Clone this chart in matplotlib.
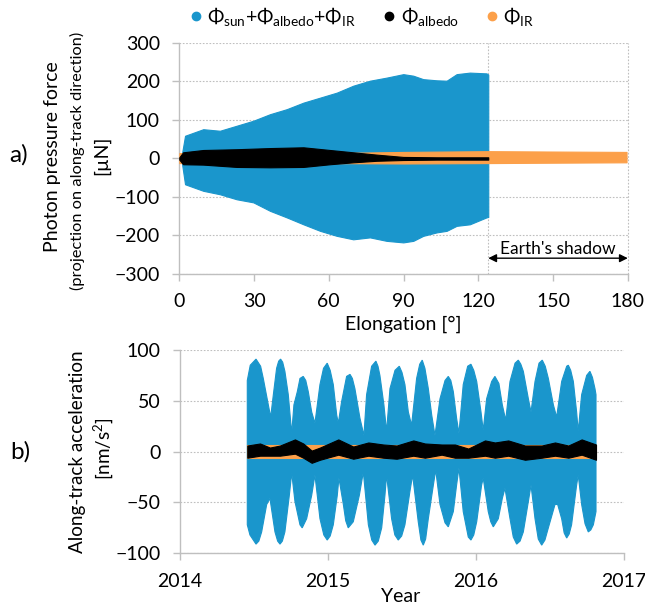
import matplotlib
matplotlib.use('Agg')
import matplotlib.pyplot as plt
from matplotlib.lines import Line2D
import numpy as np

plt.rcParams['font.family'] = ['Lato', 'DejaVu Sans']
plt.rcParams['mathtext.fontset'] = 'custom'
plt.rcParams['mathtext.rm'] = 'Lato'
plt.rcParams['mathtext.it'] = 'Lato:italic'
plt.rcParams['mathtext.bf'] = 'Lato:bold'

BLUE = '#1a96cc'
ORANGE = '#fca04a'
GREY = '#bfbfbf'

# ---- panel a: envelopes (elongation in deg, force in uN)
elong_sum = [1.0, 2.3, 9.6, 16.3, 23.0, 29.7, 36.4, 43.1, 49.8, 56.5, 63.2, 69.8,
             76.5, 83.2, 89.9, 93.9, 97.9, 103.3, 107.3, 111.3, 116.6, 123.3, 124.0]
sum_hi = [10, 59, 76, 72, 85, 98, 115, 128, 145, 158, 171, 189,
          202, 210, 219, 215, 206, 203, 202, 219, 223, 221, 218]
sum_lo = [-10, -67, -84, -93, -106, -114, -136, -153, -171, -188, -201, -210,
          -205, -214, -218, -214, -201, -192, -188, -175, -171, -153, -152]

elong_alb = [0.0, 1.5, 9.6, 23.0, 36.4, 49.8, 60.5, 69.8, 79.2, 89.9, 103.3, 124.0]
alb_hi = [3, 16, 22, 24, 27, 29, 22, 16, 10, 4, 3, 3]
alb_lo = [-3, -15, -16, -22, -23, -22, -15, -10, -6, -4, -3, -3]

elong_ir = [0.0, 60.0, 90.0, 124.0, 150.0, 179.5]
ir_hi = [14, 14, 17, 19, 18, 17]
ir_lo = [-12, -12, -13, -12, -11, -10]

shadow_start = 124.0

# ---- panel b: along-track acceleration envelopes (year, nm/s^2)
t_up = [2014.455, 2014.475, 2014.514, 2014.545, 2014.563, 2014.597, 2014.613, 2014.631,
        2014.653, 2014.667, 2014.680, 2014.694, 2014.709, 2014.732, 2014.755, 2014.770,
        2014.793, 2014.811, 2014.833, 2014.850, 2014.867, 2014.890, 2014.912, 2014.946,
        2014.970, 2014.995, 2015.015, 2015.036, 2015.059, 2015.070, 2015.092, 2015.126,
        2015.149, 2015.165, 2015.182, 2015.216, 2015.243, 2015.261, 2015.295, 2015.324,
        2015.338, 2015.351, 2015.378, 2015.396, 2015.419, 2015.453, 2015.482, 2015.500,
        2015.520, 2015.543, 2015.565, 2015.599, 2015.620, 2015.637, 2015.655, 2015.678,
        2015.701, 2015.723, 2015.757, 2015.791, 2015.813, 2015.830, 2015.847, 2015.869,
        2015.885, 2015.914, 2015.944, 2015.966, 2015.985, 2016.005, 2016.034, 2016.049,
        2016.072, 2016.106, 2016.128, 2016.155, 2016.178, 2016.201, 2016.230, 2016.264,
        2016.286, 2016.303, 2016.320, 2016.354, 2016.372, 2016.399, 2016.426, 2016.448,
        2016.468, 2016.489, 2016.523, 2016.545, 2016.579, 2016.613, 2016.624, 2016.640,
        2016.658, 2016.680, 2016.691, 2016.714, 2016.748, 2016.770, 2016.787, 2016.804,
        2016.811]
acc_up = [70, 85, 91, 84, 72, 46, 34, 56,
          82, 89, 91, 88, 79, 56, 18, 46,
          59, 72, 74, 70, 59, 39, 28, 66,
          82, 87, 80, 66, 36, 28, 49, 74,
          76, 72, 62, 33, 16, 56, 84, 89,
          84, 75, 46, 20, 62, 80, 84, 78,
          66, 39, 26, 72, 86, 90, 82, 62,
          36, 16, 52, 70, 74, 70, 59, 33,
          18, 66, 84, 86, 80, 69, 39, 21,
          52, 69, 74, 67, 46, 31, 69, 87,
          90, 86, 79, 52, 39, 69, 87, 90,
          84, 72, 46, 34, 69, 84, 85, 80,
          69, 39, 20, 56, 75, 79, 73, 62,
          56]

t_lo = [2014.455, 2014.473, 2014.514, 2014.533, 2014.552, 2014.586, 2014.608, 2014.642,
        2014.660, 2014.676, 2014.692, 2014.709, 2014.739, 2014.755, 2014.777, 2014.811,
        2014.826, 2014.856, 2014.890, 2014.912, 2014.946, 2014.972, 2014.995, 2015.015,
        2015.036, 2015.063, 2015.074, 2015.104, 2015.120, 2015.137, 2015.171, 2015.212,
        2015.239, 2015.273, 2015.296, 2015.318, 2015.340, 2015.363, 2015.385, 2015.396,
        2015.430, 2015.452, 2015.475, 2015.498, 2015.520, 2015.554, 2015.572, 2015.610,
        2015.628, 2015.644, 2015.660, 2015.678, 2015.712, 2015.728, 2015.757, 2015.791,
        2015.813, 2015.847, 2015.869, 2015.885, 2015.914, 2015.948, 2015.966, 2015.985,
        2016.005, 2016.038, 2016.049, 2016.083, 2016.100, 2016.117, 2016.151, 2016.178,
        2016.196, 2016.230, 2016.252, 2016.275, 2016.298, 2016.320, 2016.354, 2016.372,
        2016.399, 2016.421, 2016.444, 2016.466, 2016.489, 2016.534, 2016.552, 2016.579,
        2016.596, 2016.613, 2016.630, 2016.646, 2016.680, 2016.691, 2016.714, 2016.737,
        2016.759, 2016.776, 2016.793, 2016.811]
acc_lo = [-72, -82, -91, -88, -79, -52, -46, -79,
          -88, -91, -88, -79, -43, -21, -49, -72,
          -75, -66, -43, -23, -66, -82, -87, -83,
          -72, -43, -26, -52, -68, -75, -69, -43,
          -20, -72, -87, -92, -88, -75, -43, -23,
          -66, -82, -87, -83, -72, -39, -23, -69,
          -87, -92, -86, -66, -33, -18, -52, -70,
          -74, -59, -33, -16, -59, -84, -87, -82,
          -69, -33, -26, -59, -69, -74, -66, -46,
          -36, -66, -84, -91, -88, -79, -49, -33,
          -66, -86, -92, -87, -75, -52, -52, -66,
          -80, -85, -81, -72, -33, -23, -52, -71,
          -79, -77, -72, -59]

t_alb = [2014.455, 2014.541, 2014.608, 2014.676, 2014.777, 2014.833, 2014.890, 2014.946,
         2015.070, 2015.171, 2015.273, 2015.374, 2015.464, 2015.577, 2015.655, 2015.768,
         2015.858, 2015.948, 2016.061, 2016.128, 2016.218, 2016.331, 2016.444, 2016.534,
         2016.624, 2016.714, 2016.811]
alb_b_hi = [6, 8, 4, 6, 12, 8, 1, 4, 12, 5, 9, 7, 6, 11, 8, 7, 7, 3, 11, 9, 11, 6, 6, 9, 6, 12, 7]
alb_b_lo = [-6, -4, -4, -4, -2, -6, -11, -8, -3, -7, -4, -6, -7, -4, -6, -3, -6, -6, -4, -6, -4,
            -8, -6, -4, -6, -3, -8]

t_ir = [2014.455, 2016.811]
ir_b_hi = [6.5, 6.5]
ir_b_lo = [-6.5, -6.5]

fig = plt.figure(figsize=(6.45, 6.06), dpi=100)
ax1 = fig.add_axes([0.278, 0.5479, 0.6953, 0.3812])
ax2 = fig.add_axes([0.279, 0.0870, 0.6884, 0.3355])

FS = 14


def style(ax):
    for s in ['top', 'right']:
        ax.spines[s].set_visible(False)
    for s in ['left', 'bottom']:
        ax.spines[s].set_color(GREY)
        ax.spines[s].set_linewidth(1.0)
    ax.tick_params(axis='both', direction='out', length=5, width=1, color=GREY,
                   labelsize=FS, pad=9)
    ax.yaxis.grid(True, linestyle=(0, (1.5, 1.5)), color=GREY, linewidth=0.8)
    ax.set_axisbelow(True)


# panel a
style(ax1)
ax1.fill_between(elong_sum, sum_lo, sum_hi, color=BLUE, lw=0.8, zorder=2)
ax1.fill_between(elong_ir, ir_lo, ir_hi, color=ORANGE, lw=0.8, zorder=3)
ax1.fill_between(elong_alb, alb_lo, alb_hi, color='black', lw=0.8, zorder=4)
ax1.set_xlim(0, 180)
ax1.set_ylim(-300, 300)
ax1.set_xticks(range(0, 181, 30))
ax1.set_yticks(range(-300, 301, 100))
ax1.axvline(shadow_start, color=GREY, linestyle=(0, (1.5, 1.5)), lw=0.8, zorder=1)
ax1.axvline(180, color=GREY, linestyle=(0, (1.5, 1.5)), lw=0.8, zorder=1, clip_on=False)
ax1.annotate('', xy=(shadow_start, -259), xytext=(180, -259),
             arrowprops=dict(arrowstyle='<|-|>', color='black', lw=1.0,
                             mutation_scale=12, shrinkA=0, shrinkB=0), zorder=5)
ax1.text((shadow_start + 180) / 2, -234, "Earth's shadow", ha='center', va='center',
         fontsize=12.5)
ax1.set_xlabel('Elongation [°]', fontsize=FS, labelpad=4)

# panel b
style(ax2)
ax2.fill(np.r_[t_up, t_lo[::-1]], np.r_[acc_up, acc_lo[::-1]], color=BLUE, lw=0.8, zorder=2)
ax2.fill_between(t_ir, ir_b_lo, ir_b_hi, color=ORANGE, lw=0.8, zorder=3)
ax2.fill_between(t_alb, alb_b_lo, alb_b_hi, color='black', lw=0.8, zorder=4)
ax2.set_xlim(2014, 2017)
ax2.set_ylim(-100, 100)
ax2.set_xticks([2014, 2015, 2016, 2017])
ax2.set_yticks(range(-100, 101, 50))
fig.text(401 / 645, 1 - 596 / 606, 'Year', ha='center', va='center', fontsize=FS)

# y labels
fig.text(53 / 645, 1 - 157 / 606, 'Photon pressure force', rotation=90,
         ha='center', va='center', fontsize=FS)
fig.text(77 / 645, 1 - 161 / 606, '(projection on along-track direction)', rotation=90,
         ha='center', va='center', fontsize=11.8)
fig.text(102 / 645, 1 - 155 / 606, '[µN]', rotation=90, ha='center', va='center',
         fontsize=FS)
fig.text(77 / 645, 1 - 452 / 606, 'Along-track acceleration', rotation=90,
         ha='center', va='center', fontsize=13.6)
fig.text(103 / 645, 1 - 449 / 606, '[nm/s$^2$]', rotation=90, ha='center', va='center',
         fontsize=13.6)
fig.text(19 / 645, 1 - 155 / 606, 'a)', ha='center', va='center', fontsize=17.5)
fig.text(20 / 645, 1 - 452 / 606, 'b)', ha='center', va='center', fontsize=17.5)

# legend
labels = [r'$\Phi_{\mathrm{sun}}$+$\Phi_{\mathrm{albedo}}$+$\Phi_{\mathrm{IR}}$',
          r'$\Phi_{\mathrm{albedo}}$', r'$\Phi_{\mathrm{IR}}$']
handles = [Line2D([], [], marker='o', ls='none', color=c, markersize=6)
           for c in [BLUE, 'black', ORANGE]]
fig.legend(handles, labels, loc='center', bbox_to_anchor=(360 / 645, 1 - 16 / 606),
           ncol=3, frameon=False, fontsize=14, handletextpad=0.1, columnspacing=1.2,
           handlelength=1.0)

fig.savefig('out.png', dpi=100)
